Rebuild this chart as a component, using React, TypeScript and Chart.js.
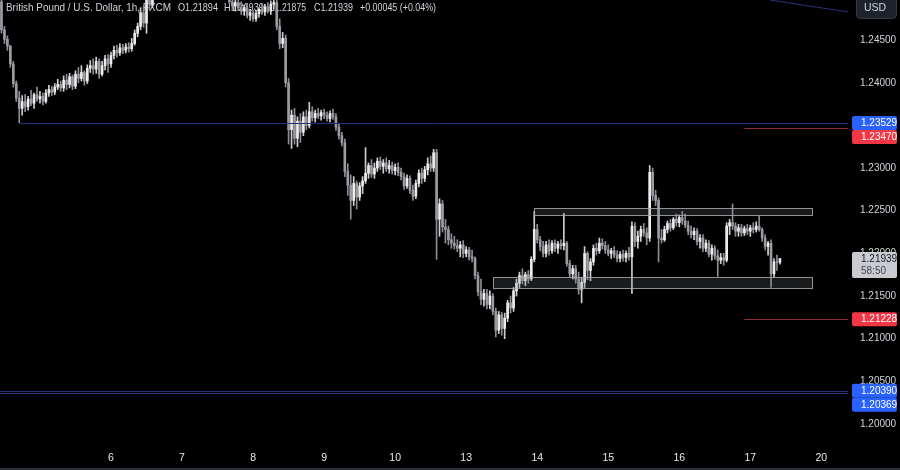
import { useEffect, useRef } from 'react';
import { Chart, registerables } from 'chart.js';

Chart.register(...registerables);

// Hourly GBP/USD candles (FXCM), index 0 = first visible hour
const opens = [
1.2495,1.2462,1.2451,1.2443,1.2422,1.2399,1.2382,1.2370,1.2378,1.2372,1.2381,1.2376,1.2386,
1.2381,1.2384,1.2378,1.2388,1.2392,1.2389,1.2395,1.2398,1.2394,1.2403,1.2398,1.2407,1.2396,1.2410,1.2405,1.2412,1.2402,1.2417,1.2420,1.2416,1.2425,1.2410,1.2420,1.2428,
1.2422,1.2432,1.2438,1.2435,1.2441,1.2438,1.2442,1.2440,1.2446,1.2458,1.2466,1.2482,1.2470,1.2512,1.2492,1.2518,1.2524,1.2530,1.2520,1.2512,1.2515,1.2508,1.2512,1.2510,
1.2515,1.2520,1.2526,1.2530,1.2524,1.2535,1.2548,1.2560,1.2572,1.2565,1.2555,1.2540,1.2545,1.2530,1.2520,1.2510,1.2505,1.2495,1.2490,1.2494,1.2488,1.2484,1.2488,1.2479,
1.2482,1.2475,1.2481,1.2486,1.2483,1.2489,1.2484,1.2492,1.2494,1.2466,1.2446,1.2452,1.2400,1.2345,1.2362,1.2335,1.2355,1.2342,1.2360,1.2350,1.2366,1.2359,1.2364,1.2361,
1.2365,1.2362,1.2358,1.2364,1.2360,1.2348,1.2338,1.2330,1.2296,1.2280,1.2262,1.2282,1.2266,1.2279,1.2285,1.2294,1.2303,1.2293,1.2300,1.2308,1.2302,1.2306,1.2299,1.2303,
1.2297,1.2301,1.2295,1.2290,1.2279,1.2288,1.2274,1.2267,1.2282,1.2294,1.2288,1.2298,1.2305,1.2300,1.2318,1.2240,1.2258,1.2231,1.2228,1.2216,1.2212,1.2209,1.2206,1.2210,
1.2200,1.2204,1.2196,1.2194,1.2174,1.2155,1.2146,1.2153,1.2140,1.2150,1.2132,1.2110,1.2128,1.2112,1.2124,1.2142,1.2136,1.2156,1.2165,1.2174,1.2168,1.2175,1.2170,1.2193,
1.2228,1.2216,1.2208,1.2200,1.2210,1.2203,1.2212,1.2206,1.2211,1.2209,1.2212,1.2188,1.2176,1.2182,1.2170,1.2158,1.2166,1.2200,1.2180,1.2190,1.2206,1.2203,1.2212,1.2209,
1.2204,1.2200,1.2203,1.2198,1.2194,1.2199,1.2195,1.2200,1.2196,1.2232,1.2214,1.2220,1.2228,1.2224,1.2218,1.2295,1.2268,1.2262,1.2218,1.2216,1.2228,1.2235,1.2230,1.2240,
1.2236,1.2242,1.2238,1.2233,1.2226,1.2222,1.2226,1.2214,1.2218,1.2206,1.2212,1.2199,1.2206,1.2197,1.2192,1.2195,1.2192,1.2232,1.2236,1.2232,1.2226,1.2230,1.2224,1.2229,
1.2226,1.2230,1.2228,1.2232,1.2228,1.2218,1.2208,1.2212,1.2176,1.2190,1.21894
];
const highs = [
1.2500,1.2466,1.2455,1.2444,1.2425,1.2402,1.2390,1.2385,1.2386,1.2384,1.2391,1.2388,1.2395,
1.2390,1.2388,1.2392,1.2397,1.2396,1.2399,1.2404,1.2402,1.2408,1.2410,1.2411,1.2409,1.2414,1.2418,1.2420,1.2414,1.2421,1.2426,1.2428,1.2430,1.2428,1.2425,1.2432,1.2433,
1.2436,1.2443,1.2444,1.2446,1.2445,1.2446,1.2447,1.2452,1.2462,1.2470,1.2488,1.2490,1.2520,1.2520,1.2525,1.2530,1.2536,1.2538,1.2528,1.2522,1.2520,1.2518,1.2518,1.2519,
1.2523,1.2528,1.2534,1.2536,1.2540,1.2552,1.2563,1.2576,1.2575,1.2570,1.2560,1.2550,1.2548,1.2536,1.2526,1.2518,1.2512,1.2502,1.2498,1.2500,1.2495,1.2491,1.2493,1.2486,
1.2485,1.2484,1.2488,1.2493,1.2492,1.2494,1.2496,1.2505,1.2500,1.2475,1.2459,1.2456,1.2405,1.2368,1.2370,1.2360,1.2364,1.2366,1.2368,1.2377,1.2372,1.2368,1.2370,1.2368,
1.2369,1.2366,1.2367,1.2369,1.2364,1.2352,1.2342,1.2334,1.2305,1.2292,1.2290,1.2285,1.2283,1.2290,1.2324,1.2306,1.2310,1.2306,1.2312,1.2313,1.2310,1.2312,1.2309,1.2307,
1.2305,1.2306,1.2300,1.2294,1.2292,1.2291,1.2280,1.2286,1.2298,1.2300,1.2302,1.2312,1.2314,1.2322,1.2322,1.2264,1.2262,1.2240,1.2232,1.2223,1.2220,1.2216,1.2214,1.2215,
1.2208,1.2207,1.2204,1.2196,1.2178,1.2170,1.2158,1.2158,1.2156,1.2153,1.2136,1.2132,1.2131,1.2130,1.2145,1.2150,1.2160,1.2170,1.2178,1.2182,1.2178,1.2180,1.2196,1.2249,
1.2234,1.2220,1.2214,1.2214,1.2216,1.2215,1.2216,1.2214,1.2216,1.2247,1.2214,1.2192,1.2186,1.2186,1.2178,1.2172,1.2208,1.2202,1.2194,1.2210,1.2212,1.2218,1.2217,1.2214,
1.2210,1.2206,1.2208,1.2203,1.2202,1.2204,1.2203,1.2207,1.2237,1.2236,1.2226,1.2232,1.2235,1.2230,1.2303,1.2300,1.2274,1.2265,1.2228,1.2232,1.2238,1.2240,1.2242,1.2246,
1.2245,1.2249,1.2246,1.2238,1.2232,1.2230,1.2229,1.2222,1.2222,1.2216,1.2215,1.2210,1.2209,1.2204,1.2200,1.2200,1.2236,1.2240,1.2258,1.2236,1.2234,1.2234,1.2232,1.2234,
1.2233,1.2236,1.2237,1.2244,1.2230,1.2222,1.2214,1.2216,1.2194,1.2198,1.21939
];
const lows = [
1.2458,1.2446,1.2438,1.2418,1.2395,1.2378,1.2353,1.2362,1.2366,1.2368,1.2373,1.2370,1.2378,
1.2376,1.2374,1.2376,1.2384,1.2385,1.2386,1.2392,1.2390,1.2390,1.2392,1.2394,1.2392,1.2393,1.2400,1.2402,1.2397,1.2399,1.2412,1.2410,1.2411,1.2405,1.2408,1.2415,1.2412,
1.2418,1.2428,1.2430,1.2432,1.2434,1.2435,1.2436,1.2437,1.2444,1.2454,1.2462,1.2465,1.2458,1.2486,1.2488,1.2506,1.2515,1.2516,1.2508,1.2505,1.2504,1.2503,1.2505,1.2506,
1.2509,1.2514,1.2519,1.2518,1.2520,1.2530,1.2542,1.2555,1.2558,1.2550,1.2535,1.2534,1.2526,1.2515,1.2504,1.2500,1.2492,1.2486,1.2484,1.2485,1.2480,1.2479,1.2476,1.2473,
1.2472,1.2472,1.2477,1.2480,1.2479,1.2482,1.2480,1.2486,1.2462,1.2440,1.2441,1.2395,1.2328,1.2323,1.2328,1.2325,1.2330,1.2338,1.2345,1.2347,1.2355,1.2354,1.2358,1.2356,
1.2358,1.2355,1.2354,1.2357,1.2344,1.2334,1.2326,1.2290,1.2268,1.2240,1.2256,1.2252,1.2262,1.2270,1.2282,1.2288,1.2289,1.2288,1.2296,1.2298,1.2294,1.2296,1.2294,1.2293,
1.2292,1.2291,1.2286,1.2275,1.2276,1.2270,1.2262,1.2264,1.2278,1.2282,1.2284,1.2292,1.2296,1.2296,1.2193,1.2220,1.2225,1.2212,1.2210,1.2206,1.2205,1.2202,1.2196,1.2195,
1.2196,1.2192,1.2190,1.2170,1.2150,1.2140,1.2138,1.2135,1.2135,1.2128,1.2102,1.2106,1.2104,1.2100,1.2120,1.2130,1.2132,1.2150,1.2160,1.2164,1.2162,1.2165,1.2168,1.2190,
1.2212,1.2203,1.2196,1.2196,1.2198,1.2200,1.2202,1.2200,1.2205,1.2204,1.2185,1.2172,1.2170,1.2165,1.2152,1.2142,1.2160,1.2169,1.2168,1.2186,1.2198,1.2200,1.2205,1.2200,
1.2197,1.2194,1.2195,1.2190,1.2190,1.2191,1.2190,1.2192,1.2153,1.2208,1.2206,1.2214,1.2220,1.2210,1.2214,1.2262,1.2256,1.2190,1.2212,1.2214,1.2224,1.2226,1.2228,1.2232,
1.2231,1.2234,1.2230,1.2222,1.2218,1.2216,1.2210,1.2206,1.2202,1.2202,1.2196,1.2192,1.2193,1.2173,1.2188,1.2186,1.2190,1.2222,1.2228,1.2220,1.2220,1.2220,1.2221,1.2222,
1.2220,1.2224,1.2225,1.2226,1.2214,1.2204,1.2198,1.2160,1.2172,1.2180,1.21875
];
const closes = [
1.2462,1.2451,1.2443,1.2422,1.2399,1.2382,1.2370,1.2378,1.2372,1.2381,1.2376,1.2386,1.2381,
1.2384,1.2378,1.2388,1.2392,1.2389,1.2395,1.2398,1.2394,1.2403,1.2398,1.2407,1.2396,1.2410,1.2405,1.2412,1.2402,1.2417,1.2420,1.2416,1.2425,1.2410,1.2420,1.2428,1.2422,
1.2432,1.2438,1.2435,1.2441,1.2438,1.2442,1.2440,1.2446,1.2458,1.2466,1.2482,1.2470,1.2512,1.2492,1.2518,1.2524,1.2530,1.2520,1.2512,1.2515,1.2508,1.2512,1.2510,1.2515,
1.2520,1.2526,1.2530,1.2524,1.2535,1.2548,1.2560,1.2572,1.2565,1.2555,1.2540,1.2545,1.2530,1.2520,1.2510,1.2505,1.2495,1.2490,1.2494,1.2488,1.2484,1.2488,1.2479,1.2482,
1.2475,1.2481,1.2486,1.2483,1.2489,1.2484,1.2492,1.2494,1.2466,1.2446,1.2452,1.2400,1.2345,1.2362,1.2335,1.2355,1.2342,1.2360,1.2350,1.2366,1.2359,1.2364,1.2361,1.2365,
1.2362,1.2358,1.2364,1.2360,1.2348,1.2338,1.2330,1.2296,1.2280,1.2262,1.2282,1.2266,1.2279,1.2285,1.2294,1.2303,1.2293,1.2300,1.2308,1.2302,1.2306,1.2299,1.2303,1.2297,
1.2301,1.2295,1.2290,1.2279,1.2288,1.2274,1.2267,1.2282,1.2294,1.2288,1.2298,1.2305,1.2300,1.2318,1.2240,1.2258,1.2231,1.2228,1.2216,1.2212,1.2209,1.2206,1.2210,1.2200,
1.2204,1.2196,1.2194,1.2174,1.2155,1.2146,1.2153,1.2140,1.2150,1.2132,1.2110,1.2128,1.2112,1.2124,1.2142,1.2136,1.2156,1.2165,1.2174,1.2168,1.2175,1.2170,1.2193,1.2228,
1.2216,1.2208,1.2200,1.2210,1.2203,1.2212,1.2206,1.2211,1.2209,1.2212,1.2188,1.2176,1.2182,1.2170,1.2158,1.2166,1.2200,1.2180,1.2190,1.2206,1.2203,1.2212,1.2209,1.2204,
1.2200,1.2203,1.2198,1.2194,1.2199,1.2195,1.2200,1.2196,1.2232,1.2214,1.2220,1.2228,1.2224,1.2218,1.2295,1.2268,1.2262,1.2218,1.2216,1.2228,1.2235,1.2230,1.2240,1.2236,
1.2242,1.2238,1.2233,1.2226,1.2222,1.2226,1.2214,1.2218,1.2206,1.2212,1.2199,1.2206,1.2197,1.2192,1.2195,1.2192,1.2232,1.2236,1.2232,1.2226,1.2230,1.2224,1.2229,1.2226,
1.2230,1.2228,1.2232,1.2228,1.2218,1.2208,1.2212,1.2176,1.2190,1.21894,1.21939
];

// Time axis: day labels and the candle index of each day's first hour
const dayLabels = ['6', '7', '8', '9', '10', '13', '14', '15', '16', '17', '20'];
const dayStartIdx = [37, 61, 85, 109, 133, 157, 181, 205, 229, 253, 277];

// Price axis ticks
const priceTicks = [1.2, 1.205, 1.21, 1.215, 1.22, 1.225, 1.23, 1.235, 1.24, 1.245];

// Horizontal levels: price and the candle index where each drawing starts
const levelPrices = [1.23529, 1.2347, 1.21228, 1.2039, 1.20369];
const levelStartIdx = [6, 251, 251, -1, -1];
const levelKinds = ['blue', 'red', 'red', 'blue', 'blue'];

// Zones (rectangles): start index, end index, top price, bottom price
const zoneStart = [180, 166];
const zoneEnd = [274, 274];
const zoneTop = [1.22531, 1.21719];
const zoneBottom = [1.22449, 1.2159];

// Trendline anchor points (index, price)
const trendIdx = [259.6, 286];
const trendPrice = [1.2497, 1.2483];

// Last price and countdown
const lastPrice = 1.21939;
const countdown = '58:50';

const legendParts = [
  'British Pound / U.S. Dollar, 1h, FXCM',
  'O1.21894',
  'H1.21939',
  'L1.21875',
  'C1.21939',
  '+0.00045 (+0.04%)',
];

const FONT = '"Liberation Sans", Arial, sans-serif';

export default function App() {
  const ref = useRef<HTMLCanvasElement | null>(null);

  useEffect(() => {
    document.body.style.margin = '0';
    document.body.style.background = '#000';
    const canvas = ref.current;
    if (!canvas) return;

    const idx = closes.map((_, i) => i);
    const up = idx.map((i) => closes[i] >= opens[i]);
    const bodyColor = up.map((u) => (u ? '#ececec' : '#9a9ca3'));
    const wickColor = up.map((u) => (u ? '#cfcfcf' : '#8c8e95'));

    const overlay = {
      id: 'tvOverlay',
      beforeDatasetsDraw(chart: any) {
        const ctx = chart.ctx;
        ctx.save();
        ctx.fillStyle = '#d1d4dc';
        ctx.font = `11px ${FONT}`;
        ctx.textBaseline = 'middle';
        ctx.textAlign = 'left';
        const xs = [6, 178, 224, 270, 314, 360];
        const ws = [165, 40, 40, 36, 39, 76];
        legendParts.forEach((t, k) => ctx.fillText(t, xs[k], 8, ws[k]));
        ctx.restore();
      },
      afterDatasetsDraw(chart: any) {
        const ctx = chart.ctx;
        const xs = chart.scales.x;
        const ys = chart.scales.y;
        const area = chart.chartArea;
        ctx.save();
        ctx.beginPath();
        ctx.rect(area.left, area.top, area.right - area.left, area.bottom - area.top);
        ctx.clip();
        // zones
        for (let k = 0; k < zoneStart.length; k++) {
          const x1 = Math.round(xs.getPixelForValue(zoneStart[k])) + 0.5;
          const x2 = Math.round(xs.getPixelForValue(zoneEnd[k])) + 0.5;
          const y1 = Math.round(ys.getPixelForValue(zoneTop[k])) + 0.5;
          const y2 = Math.round(ys.getPixelForValue(zoneBottom[k])) + 0.5;
          ctx.fillStyle = 'rgba(120,123,134,0.22)';
          ctx.fillRect(x1, y1, x2 - x1, y2 - y1);
          ctx.strokeStyle = 'rgba(170,170,170,0.85)';
          ctx.lineWidth = 1;
          ctx.strokeRect(x1, y1, x2 - x1, y2 - y1);
        }
        // levels
        for (let k = 0; k < levelPrices.length; k++) {
          const y = Math.round(ys.getPixelForValue(levelPrices[k])) + 0.5;
          const x1 = levelStartIdx[k] < 0 ? area.left : xs.getPixelForValue(levelStartIdx[k]);
          ctx.strokeStyle = levelKinds[k] === 'blue' ? '#27317a' : '#8f2a2e';
          ctx.lineWidth = 1;
          ctx.beginPath();
          ctx.moveTo(x1, y);
          ctx.lineTo(area.right, y);
          ctx.stroke();
        }
        // trendline
        ctx.strokeStyle = '#27317a';
        ctx.beginPath();
        ctx.moveTo(xs.getPixelForValue(trendIdx[0]), ys.getPixelForValue(trendPrice[0]));
        ctx.lineTo(xs.getPixelForValue(trendIdx[1]), ys.getPixelForValue(trendPrice[1]));
        ctx.stroke();
        ctx.restore();
      },
      afterDraw(chart: any) {
        const ctx = chart.ctx;
        const ys = chart.scales.y;
        ctx.save();
        const bx = 852;
        const bw = 45;
        // level labels with stacking
        const labels = levelPrices
          .map((p, k) => ({ p, k, y: ys.getPixelForValue(p) }))
          .sort((a, b) => a.y - b.y);
        let prevBottom = -1e9;
        labels.forEach((l) => {
          let top = l.y - 7;
          if (top < prevBottom) top = prevBottom;
          prevBottom = top + 14;
          ctx.fillStyle = levelKinds[l.k] === 'blue' ? '#2962ff' : '#f23645';
          ctx.beginPath();
          ctx.roundRect(bx, top, bw, 14, 2);
          ctx.fill();
          ctx.fillStyle = '#ffffff';
          ctx.font = `10px ${FONT}`;
          ctx.textBaseline = 'middle';
          ctx.textAlign = 'left';
          ctx.fillText(l.p.toFixed(5), 861, top + 7.5);
        });
        // last price box
        const ly = ys.getPixelForValue(lastPrice);
        ctx.fillStyle = '#c9cbd1';
        ctx.beginPath();
        ctx.roundRect(bx, ly - 6.5, bw, 26, 2);
        ctx.fill();
        ctx.fillStyle = '#131722';
        ctx.font = `10px ${FONT}`;
        ctx.textBaseline = 'middle';
        ctx.fillText(lastPrice.toFixed(5), 861, ly + 0.5);
        ctx.fillStyle = '#434651';
        ctx.fillText(countdown, 861, ly + 12.5);
        // USD box
        ctx.fillStyle = '#1e222d';
        ctx.strokeStyle = '#363a45';
        ctx.lineWidth = 1;
        ctx.beginPath();
        ctx.roundRect(856.5, -4, 40, 22.5, 4);
        ctx.fill();
        ctx.stroke();
        ctx.fillStyle = '#d1d4dc';
        ctx.font = `10.5px ${FONT}`;
        ctx.fillText('USD', 864, 8.5);
        // bottom border
        ctx.fillStyle = '#2a2e39';
        ctx.fillRect(0, 468, 900, 2);
        ctx.restore();
      },
    };

    const chart = new Chart(canvas, {
      type: 'bar',
      data: {
        datasets: [
          {
            label: 'wicks',
            data: idx.map((i) => ({ x: i, y: [lows[i], highs[i]] })) as any,
            backgroundColor: wickColor,
            barThickness: 1,
            borderWidth: 0,
            borderSkipped: false,
            grouped: false,
            order: 2,
          },
          {
            label: 'bodies',
            data: idx.map((i) => ({ x: i, y: [opens[i], closes[i]] })) as any,
            backgroundColor: bodyColor,
            barThickness: 2,
            minBarLength: 1,
            borderWidth: 0,
            borderSkipped: false,
            grouped: false,
            order: 1,
          },
        ],
      },
      options: {
        animation: false,
        responsive: false,
        devicePixelRatio: 1,
        layout: { padding: 0 },
        plugins: { legend: { display: false }, tooltip: { enabled: false } },
        scales: {
          x: {
            type: 'linear',
            min: -0.5,
            max: 286,
            offset: false,
            grid: { display: false, drawTicks: false },
            border: { display: false },
            afterBuildTicks: (axis: any) => {
              axis.ticks = dayStartIdx.map((v) => ({ value: v }));
            },
            afterFit: (axis: any) => {
              axis.height = 25;
              axis.paddingLeft = 0;
              axis.paddingRight = 0;
            },
            ticks: {
              autoSkip: false,
              maxRotation: 0,
              padding: 7,
              color: '#e6e8ee',
              font: { family: FONT, size: 10.5 },
              callback: (v: any) => {
                const k = dayStartIdx.indexOf(Number(v));
                return k >= 0 ? dayLabels[k] : '';
              },
            },
          },
          y: {
            type: 'linear',
            position: 'right',
            min: 1.19754,
            max: 1.2497,
            grid: { display: false, drawTicks: false },
            border: { display: false },
            afterBuildTicks: (axis: any) => {
              axis.ticks = priceTicks.map((v) => ({ value: v }));
            },
            afterFit: (axis: any) => {
              axis.width = 52;
              axis.paddingTop = 0;
              axis.paddingBottom = 0;
            },
            ticks: {
              padding: 12,
              color: '#d1d4dc',
              font: { family: FONT, size: 10 },
              callback: (v: any) => Number(v).toFixed(5),
            },
          },
        },
      },
      plugins: [overlay],
    } as any);

    return () => chart.destroy();
  }, []);

  return (
    <div style={{ width: 900, height: 470, background: '#000' }}>
      <canvas ref={ref} width={900} height={470} style={{ display: 'block' }} />
    </div>
  );
}
